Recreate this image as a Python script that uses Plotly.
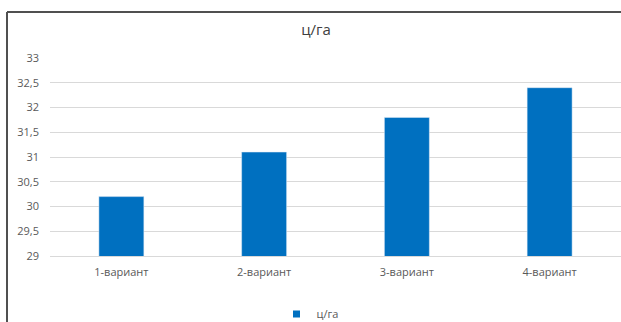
import plotly.graph_objects as go

categories = ["1-вариант", "2-вариант", "3-вариант", "4-вариант"]
values = [30.2, 31.1, 31.8, 32.4]
tick_vals = [29, 29.5, 30, 30.5, 31, 31.5, 32, 32.5, 33]
tick_text = ["29", "29,5", "30", "30,5", "31", "31,5", "32", "32,5", "33"]
series_name = "ц/га"

W, H = 621, 322

def fx(x):
    return x / W

def fy(y):
    return (H - y) / H

fig = go.Figure()
fig.add_trace(go.Bar(x=categories, y=values, name=series_name,
                     marker_color="#0070c0", width=0.315, showlegend=False))
# legend entry with a small square swatch
fig.add_trace(go.Scatter(x=[None], y=[None], mode="markers", name=series_name,
                         marker=dict(symbol="square", size=7, color="#0070c0"),
                         showlegend=True))

fig.update_layout(
    width=W, height=H,
    margin=dict(l=0, r=0, t=0, b=0, autoexpand=False),
    paper_bgcolor="white", plot_bgcolor="white",
    font=dict(family="Open Sans, Lato, sans-serif", color="#595959", size=11),
    title=dict(text=series_name, x=fx(316), xanchor="center", y=fy(30), yanchor="middle",
               font=dict(size=15, color="#404040")),
    xaxis=dict(domain=[fx(50), 1], showgrid=False, ticks="", showline=True,
               linecolor="#d9d9d9", tickfont=dict(size=11, color="#595959"),
               range=[-0.5, 3.5], ticklabelstandoff=6, automargin=False),
    yaxis=dict(domain=[fy(256), fy(58)], range=[29, 33], tickvals=tick_vals, ticktext=tick_text,
               showgrid=True, gridcolor="#d9d9d9", gridwidth=1, zeroline=False,
               tickfont=dict(size=11, color="#595959"), ticklabelstandoff=10, automargin=False),
    showlegend=True,
    legend=dict(orientation="h", x=fx(310), xanchor="center", y=fy(314), yanchor="middle",
                font=dict(size=11, color="#595959"), itemwidth=30, bgcolor="rgba(0,0,0,0)"),
    shapes=[
        dict(type="line", xref="paper", yref="paper", x0=fx(7), x1=fx(640),
             y0=fy(12), y1=fy(12), line=dict(color="#505050", width=2)),
        dict(type="line", xref="paper", yref="paper", x0=fx(7), x1=fx(7),
             y0=fy(12), y1=fy(340), line=dict(color="#505050", width=2)),
    ],
)

fig.write_html("out.html")
